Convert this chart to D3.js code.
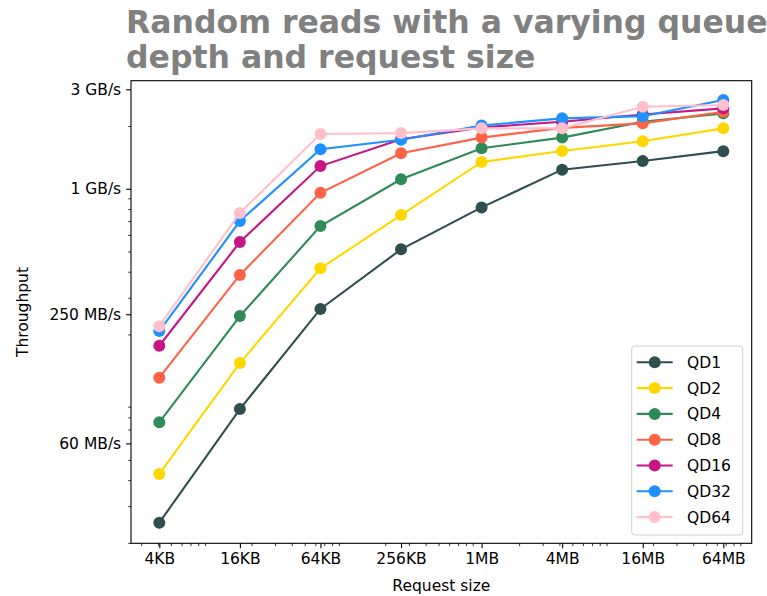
<!DOCTYPE html>
<html>
<head>
<meta charset="utf-8">
<script src="https://cdn.jsdelivr.net/npm/d3@7"></script>
<style>
  html, body { margin: 0; padding: 0; background: #fff; }
  svg { display: block; font-family: "DejaVu Sans", sans-serif; }
</style>
</head>
<body>
<svg id="chart" width="767" height="596"></svg>
<script>
// Request sizes in bytes and their tick labels
const requestSizes = [4096, 16384, 65536, 262144, 1048576, 4194304, 16777216, 67108864];
const sizeLabels = ["4KB", "16KB", "64KB", "256KB", "1MB", "4MB", "16MB", "64MB"];

// Throughput tick values (MB/s) and labels
const throughputTicks = [60, 250, 1000, 3000];
const throughputLabels = ["60 MB/s", "250 MB/s", "1 GB/s", "3 GB/s"];

// Measured throughput per queue depth, MB/s
const seriesNames = ["QD1", "QD2", "QD4", "QD8", "QD16", "QD32", "QD64"];
const seriesColors = ["#2f4f4f", "#ffd700", "#2e8b57", "#ff6347", "#c71585", "#1e90ff", "#ffc0cb"];
const qd1  = [25.0,  87.7, 265, 512,  814,  1235, 1360, 1515];
const qd2  = [42.8, 145.8, 415, 748, 1345,  1517, 1690, 1949];
const qd4  = [75.7,  245,  662, 1110, 1565, 1760, 2097, 2300];
const qd8  = [124,   386,  957, 1479, 1760, 1960, 2060, 2342];
const qd16 = [176.5, 555, 1285, 1730, 1970, 2097, 2270, 2431];
const qd32 = [207.6, 700, 1546, 1720, 2011, 2177, 2230, 2664];
const qd64 = [219,   765, 1832, 1850, 1949, 1949, 2475, 2523];
const seriesValues = [qd1, qd2, qd4, qd8, qd16, qd32, qd64];

const svg = d3.select("#chart");
const plotLeft = 131, plotRight = 751.7, plotTop = 80.7, plotBottom = 543.3;

const x = d3.scaleLog().domain([2516, 1.094e8]).range([plotLeft, plotRight]);
const y = d3.scaleLog().domain([19.9, 3300]).range([plotBottom, plotTop]);

// Minor ticks: 2..9 x 10^k, skipping the decades themselves
function minorTicks(domain, majors) {
  const out = [];
  const lo = Math.floor(Math.log10(domain[0])), hi = Math.ceil(Math.log10(domain[1]));
  for (let k = lo; k <= hi; k++) {
    for (let n = 2; n <= 9; n++) {
      const v = n * Math.pow(10, k);
      if (v >= domain[0] && v <= domain[1] && !majors.some(m => Math.abs(m - v) / v < 1e-9)) out.push(v);
    }
  }
  return out;
}

const fontSize = 15.5;

// X axis
const xAxis = d3.axisBottom(x).tickValues(requestSizes).tickFormat((d, i) => sizeLabels[i])
  .tickSize(4.9).tickPadding(4.9);
const gx = svg.append("g").attr("transform", `translate(0,${plotBottom})`).call(xAxis);
const gxMinor = svg.append("g").attr("transform", `translate(0,${plotBottom})`)
  .call(d3.axisBottom(x).tickValues(minorTicks(x.domain(), requestSizes)).tickFormat("").tickSize(2.8));

// Y axis
const yAxis = d3.axisLeft(y).tickValues(throughputTicks).tickFormat((d, i) => throughputLabels[i])
  .tickSize(4.9).tickPadding(4.9);
const gy = svg.append("g").attr("transform", `translate(${plotLeft},0)`).call(yAxis);
const gyMinor = svg.append("g").attr("transform", `translate(${plotLeft},0)`)
  .call(d3.axisLeft(y).tickValues(minorTicks(y.domain(), throughputTicks)).tickFormat("").tickSize(2.8));

[gx, gy, gxMinor, gyMinor].forEach(g => {
  g.select(".domain").remove();
  g.selectAll("line").attr("stroke", "#000").attr("stroke-width", 1.1);
  g.selectAll("text").attr("font-size", fontSize).attr("fill", "#000")
    .attr("font-family", "DejaVu Sans, sans-serif");
});
gxMinor.selectAll("line").attr("stroke-width", 0.8);
gyMinor.selectAll("line").attr("stroke-width", 0.8);

// Plot frame
svg.append("rect").attr("x", plotLeft).attr("y", plotTop)
  .attr("width", plotRight - plotLeft).attr("height", plotBottom - plotTop)
  .attr("fill", "none").attr("stroke", "#000").attr("stroke-width", 1.1);

// Series lines and markers
const line = d3.line().x((d, i) => x(requestSizes[i])).y(d => y(d));
seriesValues.forEach((vals, s) => {
  const g = svg.append("g");
  g.append("path").datum(vals).attr("d", line)
    .attr("fill", "none").attr("stroke", seriesColors[s]).attr("stroke-width", 2.1);
  g.selectAll("circle").data(vals).join("circle")
    .attr("cx", (d, i) => x(requestSizes[i])).attr("cy", d => y(d)).attr("r", 6)
    .attr("fill", seriesColors[s]);
});

// Axis titles
svg.append("text").attr("x", (plotLeft + plotRight) / 2).attr("y", 591)
  .attr("text-anchor", "middle").attr("font-size", fontSize).text("Request size");
svg.append("text").attr("transform", `translate(28,${(plotTop + plotBottom) / 2}) rotate(-90)`)
  .attr("text-anchor", "middle").attr("font-size", fontSize).text("Throughput");

// Title
const title = svg.append("text").attr("font-size", 31.5).attr("font-weight", "bold").attr("fill", "#808080");
title.append("tspan").attr("x", 126).attr("y", 33).text("Random reads with a varying queue");
title.append("tspan").attr("x", 126).attr("y", 68).text("depth and request size");

// Legend
const lg = svg.append("g");
lg.append("rect").attr("x", 631.7).attr("y", 346).attr("width", 111).attr("height", 189)
  .attr("rx", 3).attr("fill", "#fff").attr("fill-opacity", 0.8)
  .attr("stroke", "#d0d0d0").attr("stroke-width", 1);
seriesNames.forEach((name, s) => {
  const cy = 362.3 + s * 25.8;
  lg.append("line").attr("x1", 636.7).attr("x2", 672.7).attr("y1", cy).attr("y2", cy)
    .attr("stroke", seriesColors[s]).attr("stroke-width", 2.1);
  lg.append("circle").attr("cx", 654.7).attr("cy", cy).attr("r", 6).attr("fill", seriesColors[s]);
  lg.append("text").attr("x", 687).attr("y", cy + 5.5).attr("font-size", fontSize).text(name);
});
</script>
</body>
</html>
